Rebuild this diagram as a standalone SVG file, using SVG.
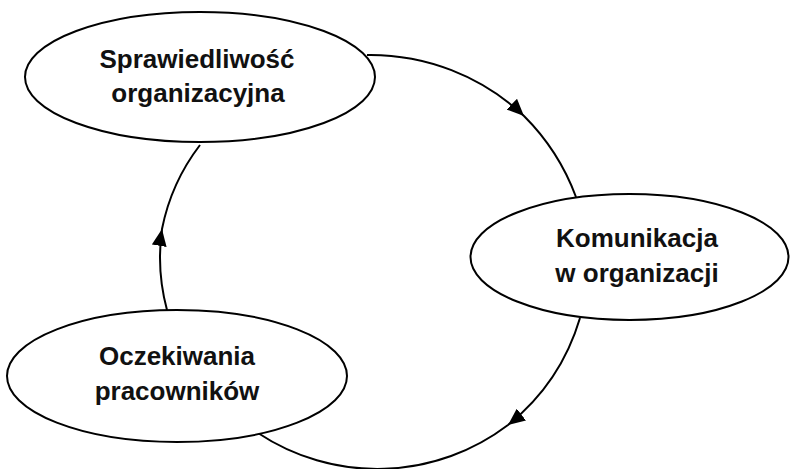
<svg xmlns="http://www.w3.org/2000/svg" width="790" height="469" viewBox="0 0 790 469">
  <style>
    .node { fill: #ffffff; stroke: #000000; stroke-width: 2; }
    .label { font-family: "Liberation Sans", Arial, sans-serif; font-weight: bold; font-size: 26px; fill: #111111; text-anchor: middle; }
    .link { fill: none; stroke: #000000; stroke-width: 2; marker-mid: url(#arrow); }
  </style>
  <defs>
    <marker id="arrow" viewBox="0 0 17 15" refX="17" refY="7.5" markerWidth="17" markerHeight="15" markerUnits="userSpaceOnUse" orient="auto">
      <path d="M0,0 L17,7.5 L0,15 Z" fill="#000000"/>
    </marker>
  </defs>
  <rect width="790" height="469" fill="#ffffff"/>

  <!-- cycle connectors, arrow drawn at the middle vertex of each path -->
  <g id="connectors">
    <path class="link" d="M367,55 A224,224 0 0 1 524,116 A224,224 0 0 1 576,197"/>
    <path class="link" d="M580,318 A216,216 0 0 1 508,425 A216,216 0 0 1 258,433"/>
    <path class="link" d="M167,310 A203,203 0 0 1 162,229 A203,203 0 0 1 200,145"/>
  </g>

  <g id="sprawiedliwosc">
    <ellipse class="node" cx="200" cy="77" rx="175" ry="65"/>
    <text class="label" x="197" y="68">Sprawiedliwość</text>
    <text class="label" x="198" y="102">organizacyjna</text>
  </g>

  <g id="komunikacja">
    <ellipse class="node" cx="629.5" cy="257" rx="159" ry="63"/>
    <text class="label" x="637" y="247">Komunikacja</text>
    <text class="label" x="637" y="282">w organizacji</text>
  </g>

  <g id="oczekiwania">
    <ellipse class="node" cx="177" cy="376" rx="170" ry="66"/>
    <text class="label" x="177" y="365">Oczekiwania</text>
    <text class="label" x="177" y="400">pracowników</text>
  </g>
</svg>
